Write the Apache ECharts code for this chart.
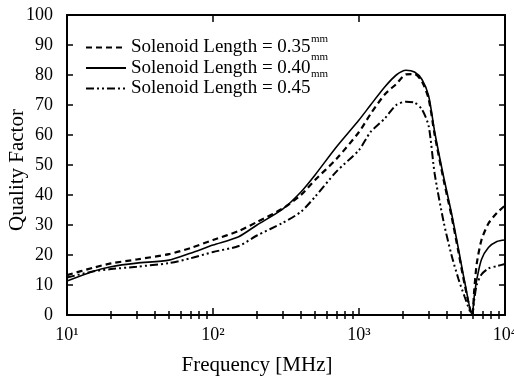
<!DOCTYPE html>
<html>
<head>
<meta charset="utf-8">
<script src="https://cdn.jsdelivr.net/npm/echarts@6/dist/echarts.min.js"></script>
<style>
html,body{margin:0;padding:0;background:#fff;}
#c{width:514px;height:380px;}
</style>
</head>
<body>
<div id="c"></div>
<script>
// Frequency grid (MHz)
var freqs = [10, 15, 20, 30, 50, 70, 100, 150, 200, 300, 400, 500, 700, 1000, 1200, 1500, 1800, 2100, 2400, 2700, 3000, 3300, 3800, 4300, 4800, 5300, 5950, 6150, 6400, 6900, 7700, 8800, 10000];
// Quality factor, solenoid length 0.35 mm (dashed)
var q035 = [13.3, 15.7, 17.2, 18.5, 20.3, 22.3, 25, 28, 31, 35.5, 40, 45, 52, 61, 67, 73.5, 77, 80.2, 80.3, 77.8, 72, 60, 45, 33, 21, 10, 0, 8, 17, 25, 30.5, 34, 36.5];
// Quality factor, solenoid length 0.40 mm (solid)
var q040 = [11.3, 14.5, 16.1, 17.3, 18.3, 20.6, 23.3, 26.1, 30, 35.3, 41, 46.7, 56, 65, 70, 76, 80, 81.6, 81, 78.5, 73, 61, 46, 34, 22, 11, 0, 6, 11.7, 18.5, 22.5, 24.5, 25];
// Quality factor, solenoid length 0.45 mm (dash-dot)
var q045 = [12.5, 14.5, 15.3, 16.1, 17.3, 18.9, 21, 23, 26.5, 30.7, 34.4, 39.4, 47.8, 55, 61, 65.5, 70, 71.1, 70.8, 68.5, 63, 47, 31, 20, 12, 6, 0, 5, 10, 13.5, 15.5, 16.3, 17];
var seriesNames = ['Solenoid Length = 0.35', 'Solenoid Length = 0.40', 'Solenoid Length = 0.45'];
var unitLabel = 'mm';
var xTitle = 'Frequency [MHz]';
var yTitle = 'Quality Factor';
var supDigits = {1:'\u00b9', 2:'\u00b2', 3:'\u00b3', 4:'\u2074'};
var xMinor = [20,30,40,50,60,70,80,90,200,300,400,500,600,700,800,900,2000,3000,4000,5000,6000,7000,8000,9000];

function pairs(ys){ return freqs.map(function(f,i){ return [f, ys[i]]; }); }

var serif = 'Liberation Serif';
var chart = echarts.init(document.getElementById('c'), null, {renderer:'canvas'});

var option = {
  backgroundColor:'#fff',
  animation:false,
  grid:{left:67, right:9, top:15, bottom:65, outerBoundsMode:'none'},
  legend:{
    show:true, orient:'vertical', left:80, top:33,
    itemWidth:40, itemHeight:16, itemGap:1.5,
    itemStyle:{opacity:0},
    data: seriesNames,
    textStyle:{color:'#000', fontFamily:serif, fontSize:19, lineHeight:16}
  },
  graphic:[
    {type:'text', left:311, top:34, style:{text:unitLabel, fontSize:11, fill:'#000', fontFamily:'Liberation Sans Narrow'}},
    {type:'text', left:311, top:51.5, style:{text:unitLabel, fontSize:11, fill:'#000', fontFamily:'Liberation Sans Narrow'}},
    {type:'text', left:311, top:69, style:{text:unitLabel, fontSize:11, fill:'#000', fontFamily:'Liberation Sans Narrow'}},
    {type:'text', left:'center', top:355, style:{text:xTitle, fontSize:21, fill:'#000', fontFamily:serif}, x:18},
    {type:'text', x:7, y:170, rotation:Math.PI/2, style:{text:yTitle, fontSize:21, fill:'#000', fontFamily:serif, textAlign:'center', textVerticalAlign:'top'}}
  ],
  xAxis:[
    {type:'log', logBase:10, min:10, max:10000, position:'bottom',
      axisLine:{show:true, onZero:false, lineStyle:{color:'#000', width:2}},
      axisTick:{show:true, inside:true, length:7, lineStyle:{color:'#000', width:1.5}},
      splitLine:{show:false},
      axisLabel:{show:true, margin:11, fontFamily:serif, fontSize:18, color:'#000',
        formatter:function(v){ return '10' + supDigits[Math.round(Math.log10(v))]; }}
    },
    {type:'log', logBase:10, min:10, max:10000, position:'bottom',
      axisLine:{show:false},
      axisTick:{show:true, inside:true, length:4, lineStyle:{color:'#000', width:1.5}, customValues:xMinor},
      axisLabel:{show:false}, splitLine:{show:false}},
    {type:'log', logBase:10, min:10, max:10000, position:'top',
      axisLine:{show:true, onZero:false, lineStyle:{color:'#000', width:2}},
      axisTick:{show:true, inside:true, length:7, lineStyle:{color:'#000', width:1.5}},
      axisLabel:{show:false}, splitLine:{show:false}},
    {type:'log', logBase:10, min:10, max:10000, position:'top',
      axisLine:{show:false},
      axisTick:{show:true, inside:true, length:4, lineStyle:{color:'#000', width:1.5}, customValues:xMinor},
      axisLabel:{show:false}, splitLine:{show:false}}
  ],
  yAxis:[
    {type:'value', min:0, max:100, interval:10, position:'left',
     axisLine:{show:true, onZero:false, lineStyle:{color:'#000', width:2}},
     axisTick:{show:true, inside:true, length:6, lineStyle:{color:'#000', width:1.5}},
     axisLabel:{show:true, margin:14, fontFamily:serif, fontSize:18, color:'#000'},
     splitLine:{show:false}},
    {type:'value', min:0, max:100, interval:10, position:'right',
     axisLine:{show:true, onZero:false, lineStyle:{color:'#000', width:2}},
     axisTick:{show:true, inside:true, length:6, lineStyle:{color:'#000', width:1.5}},
     axisLabel:{show:false}, splitLine:{show:false}}
  ],
  series:[
    {name:seriesNames[0], type:'line', data:pairs(q035), xAxisIndex:0, yAxisIndex:0,
     showSymbol:false, symbol:'none', smooth:0.25,
     lineStyle:{color:'#000', width:2.2, type:[6,4]}},
    {name:seriesNames[1], type:'line', data:pairs(q040), xAxisIndex:0, yAxisIndex:0,
     showSymbol:false, symbol:'none', smooth:0.25,
     lineStyle:{color:'#000', width:1.6, type:'solid'}},
    {name:seriesNames[2], type:'line', data:pairs(q045), xAxisIndex:0, yAxisIndex:0,
     showSymbol:false, symbol:'none', smooth:0.25,
     lineStyle:{color:'#000', width:2, type:[8,3,2,3,2,3]}}
  ]
};
chart.setOption(option);
</script>
</body>
</html>
